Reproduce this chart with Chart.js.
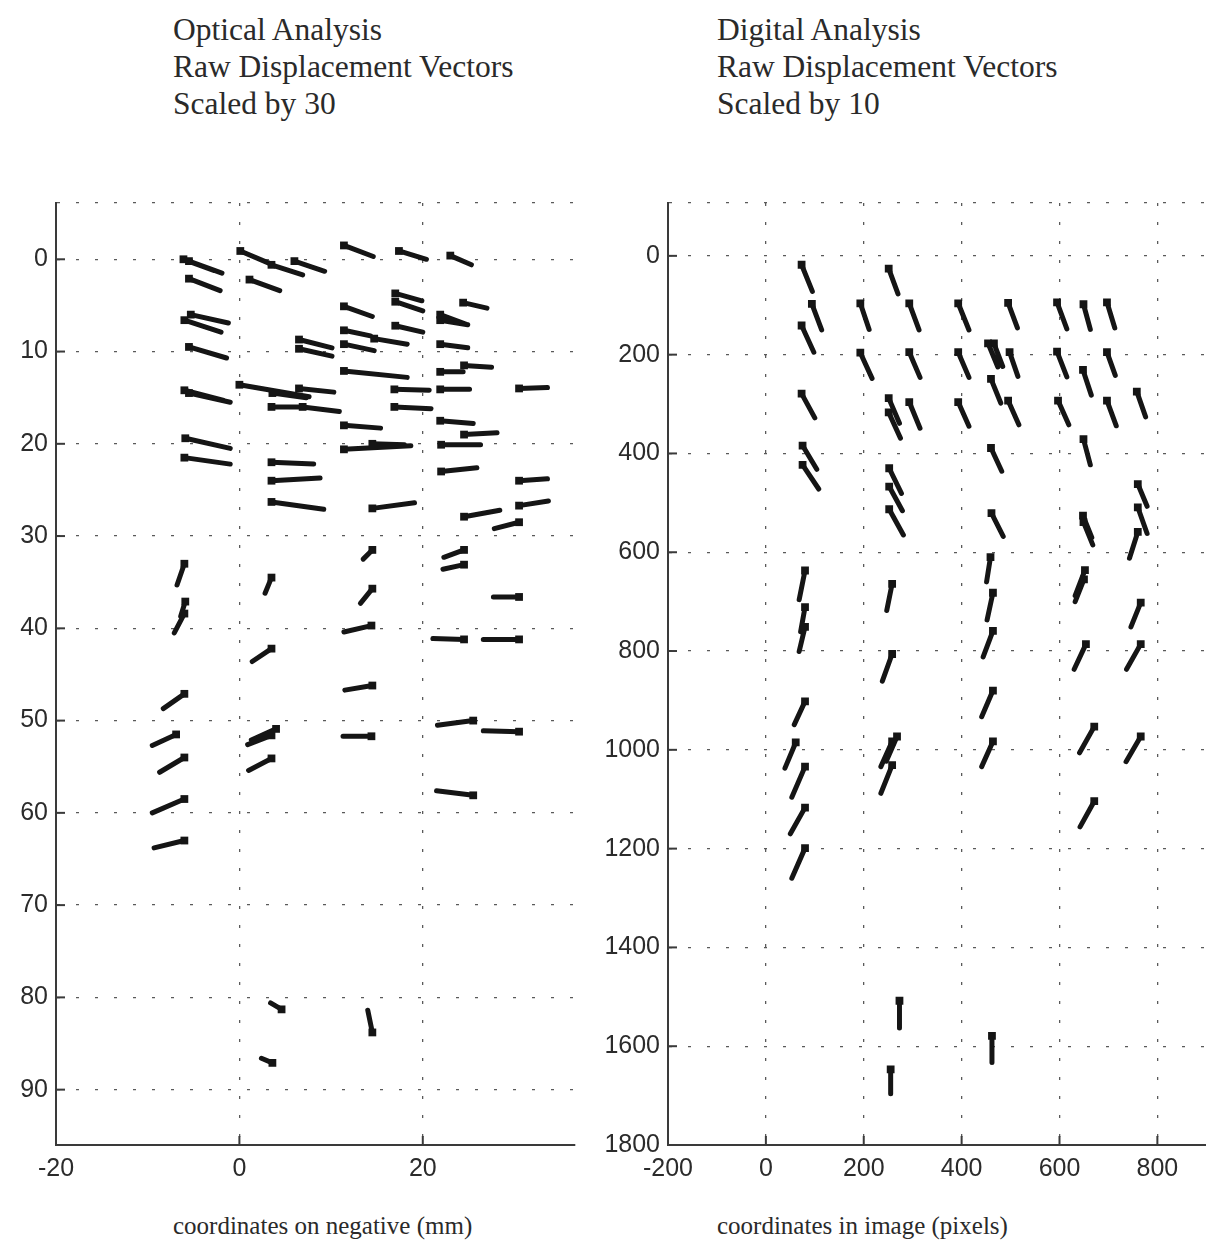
<!DOCTYPE html>
<html>
<head>
<meta charset="utf-8">
<script src="https://cdn.jsdelivr.net/npm/chart.js@4/dist/chart.umd.min.js"></script>
<style>
  html, body { margin: 0; padding: 0; background: #fff; }
  body { width: 1206px; height: 1254px; position: relative; overflow: hidden; }
  .cap { position: absolute; font-family: "Liberation Serif", "DejaVu Serif", serif; color: #2a2a2a;
         font-size: 31.5px; line-height: 37px; white-space: nowrap; }
  .axis-title { position: absolute; font-family: "Liberation Serif", "DejaVu Serif", serif; color: #2a2a2a;
         font-size: 25px; white-space: nowrap; }
  .panel { position: absolute; }
</style>
</head>
<body>
<div class="cap" style="left:173px; top:11px">Optical Analysis<br>Raw Displacement Vectors<br>Scaled by 30</div>
<div class="cap" style="left:717px; top:11px">Digital Analysis<br>Raw Displacement Vectors<br>Scaled by 10</div>

<div class="panel" style="left:0px; top:180px; width:600px; height:1020px"><canvas id="optical"></canvas></div>
<div class="panel" style="left:600px; top:180px; width:626px; height:1020px"><canvas id="digital"></canvas></div>

<div class="axis-title" style="left:173px; top:1212px">coordinates on negative (mm)</div>
<div class="axis-title" style="left:717px; top:1212px">coordinates in image (pixels)</div>

<script>
// ---- Optical analysis: target positions on the negative (mm) ----
// optU / optV are the displacement components already multiplied by 30.
const optX = [-5.5, -6.1, -5.5, 0.1, 3.5, 6.0, 1.1, -5.3, -6.0, -5.5, 6.5, 6.5, 0.0, 3.6, 6.5, 3.5, 6.9, -5.5, -6.0,
  11.4, 17.4, 23.0, 17.0, 17.0, 24.4, 11.4, 21.9, 21.9, 17.0, 11.4, 14.7, 11.4, 21.9, 11.4, 21.9, 24.5, 16.9, 21.9, 30.5,
  16.9, 11.4, 21.9, -5.9, -6.0, 3.5, 3.5, 3.5, 11.4, 14.5, 24.5, 22.0, 22.0, 30.5, 30.5, 14.5, 24.5, 30.5,
  14.5, 24.5, 24.5, 14.5, 30.5, -6.0, 3.5, -5.9, -6.0, 14.4, 3.5, 14.5, -6.0, 24.5, 30.5,
  25.5, 30.5, 14.4, -6.9, 3.5, 4.0, 3.5, -6.0, -6.0, 25.5, -6.0, 4.6, 14.5, 3.6];
const optY = [0.2, 0.0, 2.1, -0.9, 0.6, 0.2, 2.2, 6.0, 6.6, 9.5, 8.7, 9.7, 13.6, 14.5, 14.0, 16.0, 16.0, 14.5, 14.2,
  -1.5, -0.9, -0.4, 3.7, 4.6, 4.7, 5.1, 6.0, 6.6, 7.2, 7.7, 8.6, 9.2, 9.2, 12.1, 12.2, 11.5, 14.1, 14.1, 14.0,
  16.0, 18.0, 17.5, 19.4, 21.5, 22.0, 24.0, 26.3, 20.6, 20.0, 19.0, 20.1, 23.0, 24.0, 26.7, 27.0, 27.9, 28.5,
  31.5, 31.5, 33.1, 35.7, 36.6, 33.0, 34.5, 37.1, 38.4, 39.7, 42.2, 46.2, 47.1, 41.2, 41.2,
  50.0, 51.2, 51.7, 51.5, 51.6, 50.9, 54.1, 54.0, 58.5, 58.1, 63.0, 81.3, 83.8, 87.1];
const optU = [3.6, 3.3, 3.4, 3.3, 3.4, 3.3, 3.3, 4.1, 4.0, 4.1, 3.6, 3.6, 7.6, 3.7, 3.8, 3.4, 4.0, 4.5, 4.3,
  3.2, 3.0, 2.3, 2.9, 3.0, 2.6, 3.1, 3.0, 3.0, 3.0, 2.9, 3.6, 3.3, 3.0, 6.9, 2.5, 3.0, 3.8, 3.2, 3.1,
  4.0, 4.0, 3.6, 4.9, 5.0, 4.6, 5.3, 5.7, 7.3, 3.5, 3.6, 4.3, 3.9, 3.1, 3.2, 4.6, 3.9, -2.7,
  -1.0, -2.2, -2.3, -1.3, -2.8, -0.8, -0.7, -0.5, -1.1, -3.0, -2.1, -3.0, -2.3, -3.4, -3.9,
  -3.9, -3.9, -3.1, -2.6, -2.6, -2.7, -2.5, -2.7, -3.5, -4.0, -3.3, -1.2, -0.5, -1.2];
const optV = [1.3, 1.2, 1.3, 1.4, 1.1, 1.1, 1.2, 0.9, 1.3, 1.2, 0.9, 0.8, 1.3, 0.5, 0.4, 0.0, 0.5, 1.0, 1.1,
  1.2, 0.9, 1.0, 0.8, 1.0, 0.6, 1.1, 1.1, 0.5, 0.7, 0.6, 0.6, 0.7, 0.4, 0.7, 0.0, 0.2, 0.1, 0.0, -0.1,
  0.2, 0.3, 0.3, 1.1, 0.7, 0.2, -0.3, 0.8, -0.4, 0.1, -0.2, 0.0, -0.4, -0.2, -0.5, -0.6, -0.7, 0.7,
  1.0, 0.8, 0.5, 1.6, 0.0, 2.3, 1.7, 1.6, 2.1, 0.7, 1.4, 0.5, 1.6, -0.1, 0.0,
  0.5, -0.1, 0.0, 1.2, 1.0, 1.2, 1.3, 1.6, 1.5, -0.5, 0.8, -0.7, -2.4, -0.5];
const optXTicks = [-20, 0, 20];
const optYTicks = [0, 10, 20, 30, 40, 50, 60, 70, 80, 90];

// ---- Digital analysis: target positions in the scanned image (pixels) ----
// digU / digV are the displacement components already multiplied by 10.
const digX = [73, 94, 73, 193, 193, 73, 75, 75, 251, 293, 393, 495, 595, 649, 697, 293, 393, 466, 454, 498, 595, 697,
  648, 460, 251, 251, 293, 393, 495, 597, 697, 758, 460, 649, 252, 252, 252, 461, 649, 648, 760, 760, 760,
  80, 80, 80, 258, 258, 459, 464, 464, 464, 464, 652, 650, 654, 766, 766, 671, 766, 671,
  80, 61, 80, 80, 80, 258, 268, 258, 273, 462, 255];
const digY = [18, 97, 141, 96, 196, 279, 384, 423, 26, 96, 96, 95, 94, 98, 94, 195, 195, 177, 177, 195, 194, 195,
  231, 249, 288, 317, 296, 296, 293, 293, 293, 275, 389, 371, 430, 467, 513, 521, 539, 526, 462, 509, 559,
  637, 711, 751, 664, 806, 610, 682, 759, 880, 983, 636, 655, 786, 702, 786, 953, 973, 1104,
  902, 985, 1034, 1117, 1199, 983, 973, 1031, 1508, 1579, 1647];
const digU = [22, 20, 25, 18, 24, 27, 29, 33, 19, 20, 22, 19, 20, 14, 16, 22, 22, 18, 20, 17, 20, 17,
  17, 20, 22, 24, 22, 22, 22, 22, 19, 18, 22, 14, 25, 27, 29, 24, 19, 18, 19, 19, -17,
  -12, -9, -12, -11, -20, -8, -12, -20, -23, -23, -20, -18, -24, -20, -29, -30, -30, -29,
  -22, -22, -27, -30, -27, -23, -22, -23, 0, 0, 0];
const digV = [54, 53, 54, 53, 52, 49, 48, 49, 51, 54, 54, 51, 54, 51, 52, 51, 51, 47, 48, 49, 51, 47,
  51, 49, 51, 52, 53, 49, 49, 49, 51, 51, 47, 52, 51, 49, 52, 47, 46, 44, 45, 53, 53,
  59, 50, 50, 54, 55, 50, 55, 53, 53, 51, 52, 45, 51, 49, 51, 53, 51, 52,
  47, 52, 62, 53, 61, 51, 50, 57, 55, 54, 49];
const digXTicks = [-200, 0, 200, 400, 600, 800];
const digYTicks = [0, 200, 400, 600, 800, 1000, 1200, 1400, 1600, 1800];

const INK = '#151515';
const AXIS = '#3a3a3a';
const GRID = '#5a5a5a';
const TICK_FONT = { family: '"Liberation Sans", Arial, Helvetica, sans-serif', size: 25 };

// Each vector becomes a two-point segment; a null point breaks the line between vectors.
function segments(xs, ys, us, vs) {
  const pts = [];
  xs.forEach((x, i) => {
    pts.push({ x: x, y: ys[i] }, { x: x + us[i], y: ys[i] + vs[i] }, { x: x + us[i], y: null });
  });
  return pts;
}
function origins(xs, ys) {
  return xs.map((x, i) => ({ x: x, y: ys[i] }));
}

// Short tick marks drawn inward from the axis lines.
const innerTicks = {
  id: 'innerTicks',
  afterDraw(chart) {
    const { ctx, chartArea: a, scales: { x, y } } = chart;
    ctx.save();
    ctx.strokeStyle = AXIS;
    ctx.lineWidth = 2;
    x.ticks.forEach(t => {
      if (!t.label) return;
      const px = x.getPixelForValue(t.value);
      ctx.beginPath(); ctx.moveTo(px, a.bottom); ctx.lineTo(px, a.bottom - 9); ctx.stroke();
    });
    y.ticks.forEach(t => {
      if (!t.label) return;
      const py = y.getPixelForValue(t.value);
      ctx.beginPath(); ctx.moveTo(a.left, py); ctx.lineTo(a.left + 9, py); ctx.stroke();
    });
    ctx.restore();
  }
};

function vectorChart(id, cfg) {
  const { xs, ys, us, vs, xTicks, yTicks, xMin, xMax, yMin, yMax, yWidth, padRight } = cfg;
  const labelled = (list) => (v) => (list.includes(v) ? String(v) : '');
  return new Chart(document.getElementById(id), {
    type: 'scatter',
    data: {
      datasets: [
        {
          data: segments(xs, ys, us, vs),
          showLine: true,
          spanGaps: false,
          borderColor: INK,
          borderWidth: 5,
          borderCapStyle: 'round',
          pointRadius: 0,
          pointHoverRadius: 0
        },
        {
          data: origins(xs, ys),
          pointStyle: 'rect',
          pointRadius: 5.5,
          backgroundColor: INK,
          borderColor: INK,
          borderWidth: 0
        }
      ]
    },
    plugins: [innerTicks],
    options: {
      responsive: true,
      maintainAspectRatio: false,
      animation: false,
      events: [],
      layout: { padding: { top: 23, right: padRight, bottom: 0, left: 0 } },
      plugins: { legend: { display: false }, tooltip: { enabled: false } },
      scales: {
        x: {
          type: 'linear',
          min: xMin, max: xMax,
          afterBuildTicks: (s) => { s.ticks = xTicks.map(v => ({ value: v })); },
          afterFit: (s) => { s.height = 55; },
          ticks: { callback: labelled(xTicks), font: TICK_FONT, color: '#2b2b2b', padding: 9, maxRotation: 0, autoSkip: false },
          grid: { color: GRID, lineWidth: 1.3, drawTicks: false },
          border: { color: AXIS, width: 2, dash: [3, 16] }
        },
        y: {
          type: 'linear',
          reverse: true,
          min: yMin, max: yMax,
          // the top bound carries an unlabelled tick so its dotted line frames the plot
          afterBuildTicks: (s) => { s.ticks = [{ value: yMin }].concat(yTicks.map(v => ({ value: v }))); },
          afterFit: (s) => { s.width = yWidth; },
          ticks: { callback: labelled(yTicks), font: TICK_FONT, color: '#2b2b2b', padding: 8, autoSkip: false },
          grid: { color: GRID, lineWidth: 1.3, drawTicks: false },
          border: { color: AXIS, width: 2, dash: [3, 16] }
        }
      }
    }
  });
}

vectorChart('optical', {
  xs: optX, ys: optY, us: optU, vs: optV,
  xTicks: optXTicks, yTicks: optYTicks,
  xMin: -20, xMax: 36.6, yMin: -6.1, yMax: 96.0,
  yWidth: 56, padRight: 25
});

vectorChart('digital', {
  xs: digX, ys: digY, us: digU, vs: digV,
  xTicks: digXTicks, yTicks: digYTicks,
  xMin: -200, xMax: 929, yMin: -107, yMax: 1800,
  yWidth: 68, padRight: 0
});
</script>
</body>
</html>
